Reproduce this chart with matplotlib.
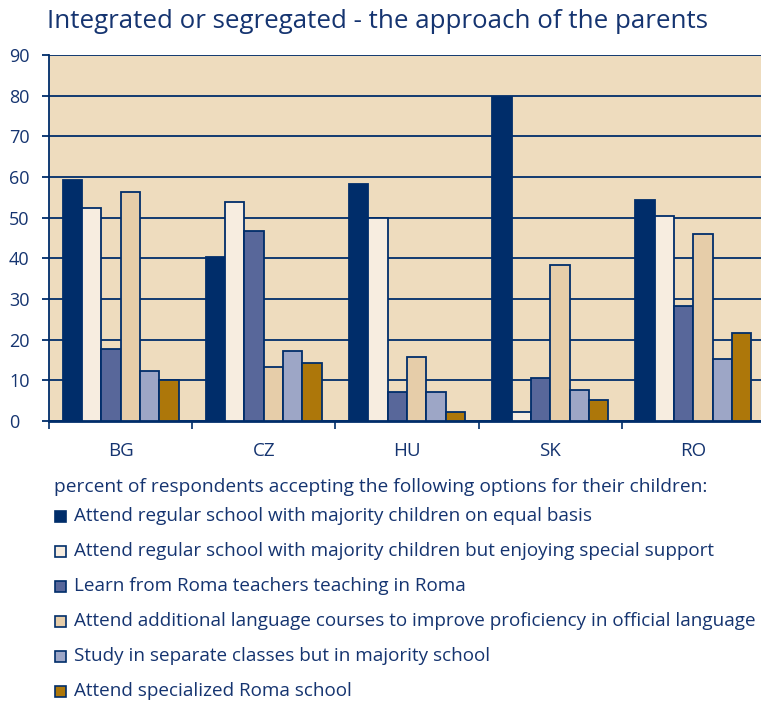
import numpy as np
import matplotlib.pyplot as plt

# categories / series
countries = ["BG", "CZ", "HU", "SK", "RO"]
regular_equal = [59.3, 40.4, 58.4, 79.7, 54.3]
regular_support = [52.4, 53.9, 50.0, 2.2, 50.4]
roma_teachers = [17.6, 46.7, 7.1, 10.5, 28.3]
language_courses = [56.3, 13.3, 15.8, 38.4, 46.0]
separate_classes = [12.3, 17.2, 7.1, 7.6, 15.2]
roma_school = [10.1, 14.3, 2.2, 5.2, 21.6]

labels = [
    "Attend regular school with majority children on equal basis",
    "Attend regular school with majority children but enjoying special support",
    "Learn from Roma teachers teaching in Roma",
    "Attend additional language courses to improve proficiency in official language",
    "Study in separate classes but in majority school",
    "Attend specialized Roma school",
]
colors = ["#002d6a", "#f7ede0", "#58679a", "#e6cda9", "#9da6c6", "#ad770a"]
series = [regular_equal, regular_support, roma_teachers, language_courses,
          separate_classes, roma_school]

navy = "#002d6a"
txt = "#153470"
plt.rcParams['font.family'] = ['Open Sans', 'DejaVu Sans']

W, H = 761, 708
fig = plt.figure(figsize=(W / 100, H / 100), dpi=100)
ax = fig.add_axes([49 / W, 1 - 421 / H, (765 - 49) / W, (421 - 55) / H])
ax.set_facecolor("#eedcbe")

x = np.arange(len(countries))
bw = 0.135
for i, (vals, c) in enumerate(zip(series, colors)):
    ax.bar(x + (i - 2.5) * bw, vals, bw, color=c, edgecolor=navy,
           linewidth=1.3, zorder=3)

ax.set_xlim(-0.5, 4.5)
ax.set_ylim(0, 90)
ax.set_yticks(range(0, 91, 10))
ax.yaxis.grid(True, color=navy, linewidth=1.3, zorder=1)
ax.set_xticks(np.arange(-0.5, 5, 1))
ax.set_xticklabels([])
ax.set_xticks(x, minor=True)
ax.set_xticklabels(countries, minor=True)
ax.tick_params(axis="x", which="major", length=6, color=navy, width=1.2)
ax.tick_params(axis="x", which="minor", length=0, pad=15, labelsize=13.5, labelcolor=txt)
ax.tick_params(axis="y", length=5, color=navy, width=1.3, labelsize=13,
               labelcolor=txt, pad=23.8)
for lab in ax.get_yticklabels():
    lab.set_horizontalalignment("left")
for s in ["top", "right"]:
    ax.spines[s].set_visible(False)
ax.spines["left"].set_color(navy)
ax.spines["left"].set_linewidth(1.3)
ax.spines["bottom"].set_color(navy)
ax.spines["bottom"].set_linewidth(2)

fig.text(47 / W, 1 - 22 / H, "Integrated or segregated - the approach of the parents",
         fontsize=18.6, color=txt, va="center", ha="left")
fig.text(54 / W, 1 - 487 / H,
         "percent of respondents accepting the following options for their children:",
         fontsize=13.8, color=txt, va="center", ha="left")
for i, (lab, c) in enumerate(zip(labels, colors)):
    yy = 516 + i * 35
    fig.patches.append(plt.Rectangle((55 / W, 1 - (yy + 6) / H), 11 / W, 11 / H,
                                     transform=fig.transFigure, facecolor=c,
                                     edgecolor=navy, linewidth=1.2))
    fig.text(74 / W, 1 - yy / H, lab, fontsize=13.6, color=txt, va="center", ha="left")

fig.savefig("out.png", dpi=100)
